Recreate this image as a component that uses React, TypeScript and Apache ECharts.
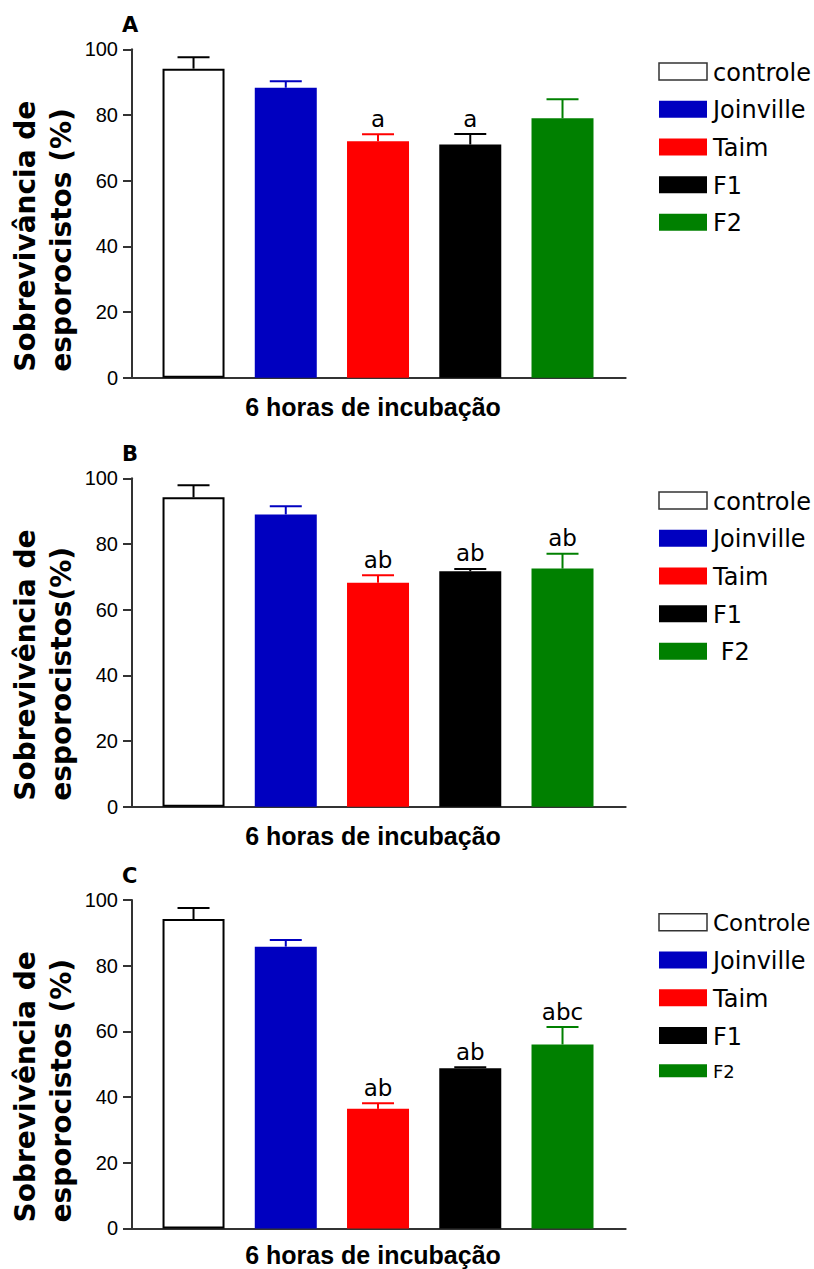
import React, { useEffect, useRef } from "react";
import * as echarts from "echarts";

const categories = ["controle", "Joinville", "Taim", "F1", "F2"];
const barColors = ["#ffffff", "#0000c0", "#ff0000", "#000000", "#008000"];
const errColors = ["#000000", "#0000c0", "#ff0000", "#000000", "#008000"];

const meansA = [94.1, 88.3, 72.0, 71.0, 79.0];
const errA = [3.5, 2.0, 2.1, 3.2, 5.8];
const lettersA = ["", "", "a", "a", ""];

const meansB = [94.2, 89.0, 68.2, 71.7, 72.5];
const errB = [3.7, 2.5, 2.3, 0.7, 4.5];
const lettersB = ["", "", "ab", "ab", "ab"];

const meansC = [94.2, 85.8, 36.4, 48.8, 56.0];
const errC = [3.4, 2.0, 1.7, 0.3, 5.3];
const lettersC = ["", "", "ab", "ab", "abc"];

const legendA = ["controle", "Joinville", "Taim", "F1", "F2"];
const legendB = ["controle", "Joinville", "Taim", "F1", " F2"];
const legendC = ["Controle", "Joinville", "Taim", "F1", "F2"];

const yTicks = [0, 20, 40, 60, 80, 100];
const panelLetters = ["A", "B", "C"];
const yTitles = [
  "Sobrevivância de\nesporocistos (%)",
  "Sobrevivência de\nesporocistos(%)",
  "Sobrevivência de\nesporocistos (%)",
];
const xTitle = "6 horas de incubação";

const GRID_LEFT = 132;
const GRID_WIDTH = 493.7;
const GRID_HEIGHT = 328.4;
const gridTops = [49.3, 478.3, 900];

export default function App() {
  const ref = useRef<HTMLDivElement>(null);

  useEffect(() => {
    if (!ref.current) return;
    const chart = echarts.init(ref.current, null, { renderer: "svg" });

    const panels = [
      { means: meansA, errs: errA, letters: lettersA, legend: legendA },
      { means: meansB, errs: errB, letters: lettersB, legend: legendB },
      { means: meansC, errs: errC, letters: lettersC, legend: legendC },
    ];

    const grid: any[] = [];
    const xAxis: any[] = [];
    const yAxis: any[] = [];
    const series: any[] = [];
    const graphic: any[] = [];

    panels.forEach((p, k) => {
      const top = gridTops[k];
      const bottom = top + GRID_HEIGHT;
      grid.push({ left: GRID_LEFT, top, width: GRID_WIDTH, height: GRID_HEIGHT });
      xAxis.push({
        gridIndex: k,
        type: "value",
        min: -0.667,
        max: 4.685,
        axisLine: { show: true, onZero: false, lineStyle: { color: "#333", width: 2 } },
        axisTick: { show: false },
        axisLabel: { show: false },
        splitLine: { show: false },
      });
      yAxis.push({
        gridIndex: k,
        type: "value",
        min: yTicks[0],
        max: yTicks[yTicks.length - 1],
        interval: yTicks[1] - yTicks[0],
        axisLine: { show: true, onZero: false, lineStyle: { color: "#333", width: 2 } },
        axisTick: { show: true, length: 9, lineStyle: { color: "#333", width: 2 } },
        axisLabel: {
          color: "#000",
          fontFamily: "Liberation Sans",
          fontSize: 20,
          margin: 14,
        },
        splitLine: { show: false },
      });

      series.push({
        type: "bar",
        xAxisIndex: k,
        yAxisIndex: k,
        barWidth: 62,
        data: p.means.map((v, i) => ({
          value: [i, v],
          name: categories[i],
          itemStyle:
            i === 0
              ? { color: "#ffffff", borderColor: "#000", borderWidth: 2 }
              : { color: barColors[i] },
        })),
      });

      const errs = p.errs;
      series.push({
        type: "custom",
        xAxisIndex: k,
        yAxisIndex: k,
        z: 5,
        data: p.means.map((v, i) => [i, v]),
        renderItem: (params: any, api: any) => {
          const i = params.dataIndex;
          const x = api.value(0);
          const v = api.value(1);
          const e = errs[i];
          const p0 = api.coord([x, v]);
          const p1 = api.coord([x, v + e]);
          const c = errColors[i];
          const style = { stroke: c, lineWidth: 2 };
          return {
            type: "group",
            children: [
              { type: "line", shape: { x1: p0[0], y1: p0[1], x2: p1[0], y2: p1[1] }, style },
              { type: "line", shape: { x1: p1[0] - 16, y1: p1[1], x2: p1[0] + 16, y2: p1[1] }, style },
            ],
          };
        },
      });

      const letters = p.letters;
      series.push({
        type: "custom",
        xAxisIndex: k,
        yAxisIndex: k,
        z: 6,
        data: p.means.map((v, i) => [i, v + errs[i]]),
        renderItem: (params: any, api: any) => {
          const txt = letters[params.dataIndex];
          if (!txt) return { type: "group", children: [] };
          const pt = api.coord([api.value(0), api.value(1)]);
          return {
            type: "text",
            x: pt[0],
            y: pt[1] - 4,
            style: {
              text: txt,
              align: "center",
              verticalAlign: "bottom",
              fontFamily: "DejaVu Sans",
              fontSize: 23,
              fill: "#000",
            },
          };
        },
      });

      graphic.push({
        type: "text",
        x: 122,
        y: top - 24.5,
        style: {
          text: panelLetters[k],
          align: "left",
          verticalAlign: "middle",
          fontFamily: "DejaVu Sans",
          fontWeight: "bold",
          fontSize: 21,
          fill: "#000",
        },
      });

      graphic.push({
        type: "text",
        x: 43,
        y: bottom - 6,
        rotation: Math.PI / 2,
        style: {
          text: yTitles[k],
          align: "left",
          verticalAlign: "middle",
          lineHeight: 36,
          fontFamily: "DejaVu Sans",
          fontWeight: "bold",
          fontSize: 28,
          fill: "#000",
        },
      });

      graphic.push({
        type: "text",
        x: 373,
        y: bottom + (k === 2 ? 27 : 29),
        style: {
          text: xTitle,
          align: "center",
          verticalAlign: "middle",
          fontFamily: "Liberation Sans",
          fontWeight: "bold",
          fontSize: 25,
          fill: "#000",
        },
      });

      const offsets = [22.3, 60, 97.7, 135.5, 173];
      p.legend.forEach((name, i) => {
        const small = k === 2 && i === 4;
        const cy = top + (small ? 170.8 : offsets[i]);
        const h = small ? 13 : 17;
        graphic.push({
          type: "rect",
          shape: { x: 659, y: cy - h / 2, width: 48, height: h },
          style:
            i === 0
              ? { fill: "#fff", stroke: "#333", lineWidth: 1.5 }
              : { fill: barColors[i] },
        });
        graphic.push({
          type: "text",
          x: 713,
          y: cy + 1,
          style: {
            text: name,
            align: "left",
            verticalAlign: "middle",
            fontFamily: "DejaVu Sans",
            fontSize: small ? 18 : name === "Controle" ? 23 : 24,
            fill: "#000",
          },
        });
      });
    });

    chart.setOption({
      animation: false,
      backgroundColor: "#ffffff",
      grid,
      xAxis,
      yAxis,
      series,
      graphic,
    });

    return () => chart.dispose();
  }, []);

  return (
    <div
      ref={ref}
      style={{ position: "absolute", left: 0, top: 0, width: 814, height: 1269 }}
    />
  );
}
